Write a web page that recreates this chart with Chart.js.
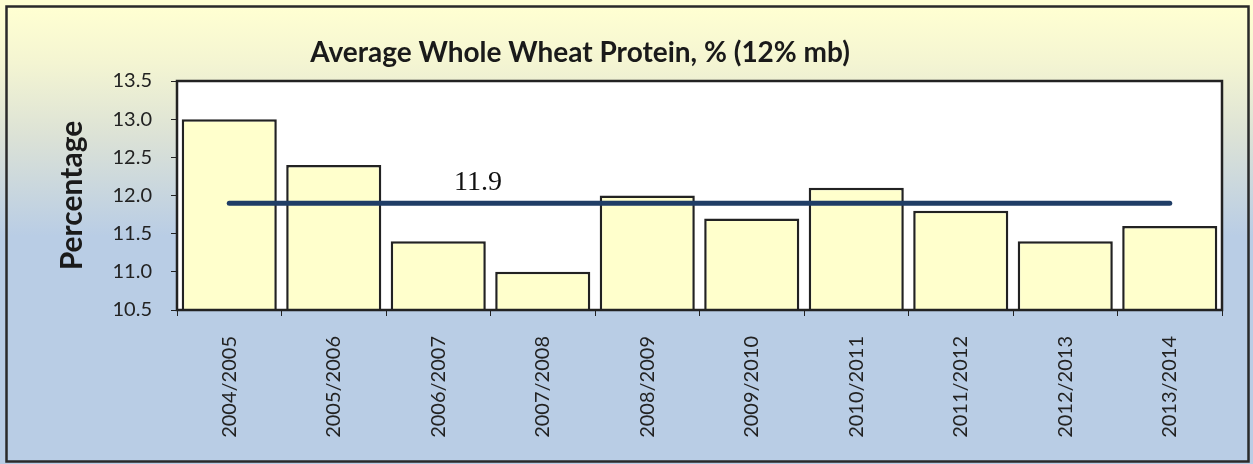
<!DOCTYPE html>
<html>
<head>
<meta charset="utf-8">
<script src="https://cdn.jsdelivr.net/npm/chart.js@4/dist/chart.umd.min.js"></script>
<style>
  html,body{margin:0;padding:0;background:#fff;}
  #wrap{width:1253px;height:464px;}
</style>
</head>
<body>
<div id="wrap"><canvas id="c" width="1253" height="464"></canvas></div>
<script>
const categories = ['2004/2005','2005/2006','2006/2007','2007/2008','2008/2009','2009/2010','2010/2011','2011/2012','2012/2013','2013/2014'];
const proteinValues = [13.0, 12.4, 11.4, 11.0, 12.0, 11.7, 12.1, 11.8, 11.4, 11.6];
const averageValue = 11.9;
const averageLine = categories.map(() => averageValue);
const averageLabel = '11.9';
const chartTitle = 'Average Whole Wheat Protein, % (12% mb)';
const yTitle = 'Percentage';
const yMin = 10.5, yMax = 13.5, yStep = 0.5;

const bgPlugin = {
  id: 'bg',
  beforeDraw(chart) {
    const ctx = chart.ctx;
    const W = chart.width, H = chart.height;
    ctx.save();
    const g = ctx.createLinearGradient(0, 8, 0, H);
    g.addColorStop(0, '#FFFFD2');
    g.addColorStop(0.12, '#F4F5D2');
    g.addColorStop(0.28, '#DCE2D6');
    g.addColorStop(0.50, '#B9CDE5');
    g.addColorStop(1, '#B9CDE5');
    ctx.fillStyle = g;
    ctx.fillRect(0, 0, W, H);
    ctx.lineWidth = 2.5;
    ctx.strokeStyle = '#2a2a2a';
    ctx.strokeRect(6.5, 6.5, W - 11, H - 9);
    const a = chart.chartArea;
    ctx.fillStyle = '#FFFFFF';
    ctx.fillRect(a.left, a.top, a.right - a.left, a.bottom - a.top);
    ctx.restore();
  },
  afterDraw(chart) {
    const ctx = chart.ctx;
    const a = chart.chartArea;
    ctx.save();
    ctx.lineWidth = 2.5;
    ctx.strokeStyle = '#222';
    ctx.strokeRect(a.left, a.top, a.right - a.left, a.bottom - a.top);
    // title
    ctx.fillStyle = '#1a1a1a';
    ctx.font = 'bold 28px Lato, "Open Sans", sans-serif';
    ctx.textAlign = 'center';
    ctx.textBaseline = 'alphabetic';
    ctx.fillText(chartTitle, 580, 62);
    // average label
    const xs = chart.scales.x, ys = chart.scales.y;
    const lx = xs.getPixelForValue(2) + 0.38 * (xs.getPixelForValue(3) - xs.getPixelForValue(2));
    const ly = ys.getPixelForValue(averageValue) - 13;
    ctx.font = '28px "Liberation Serif", "Times New Roman", serif';
    ctx.fillStyle = '#111';
    ctx.fillText(averageLabel, lx, ly);
    ctx.restore();
  }
};

new Chart(document.getElementById('c'), {
  data: {
    labels: categories,
    datasets: [
      {
        type: 'line',
        data: averageLine,
        borderColor: '#1F3D66',
        borderWidth: 5,
        borderCapStyle: 'round',
        pointRadius: 0,
        fill: false,
        order: 0
      },
      {
        type: 'bar',
        data: proteinValues,
        backgroundColor: '#FFFFCC',
        borderColor: '#222222',
        borderWidth: 2.5,
        barPercentage: 0.91,
        categoryPercentage: 1.0,
        base: yMin,
        order: 1
      }
    ]
  },
  options: {
    responsive: false,
    animation: false,
    layout: { padding: { left: 0, right: 31, top: 81, bottom: 0 } },
    plugins: { legend: { display: false }, tooltip: { enabled: false }, title: { display: false } },
    scales: {
      x: {
        type: 'category',
        offset: true,
        grid: { display: true, drawOnChartArea: false, offset: true, tickLength: 6, color: '#222', lineWidth: 1 },
        border: { display: false },
        ticks: {
          minRotation: 90, maxRotation: 90, padding: 20,
          color: '#222',
          font: { family: 'Lato, "Open Sans", sans-serif', size: 20 }
        },
        afterFit(scale) { scale.height = 154; }
      },
      y: {
        min: yMin, max: yMax,
        grid: { display: true, drawOnChartArea: false, tickLength: 6, color: '#222', lineWidth: 1 },
        border: { display: false },
        ticks: {
          stepSize: yStep, padding: 19,
          color: '#222',
          font: { family: 'Lato, "Open Sans", sans-serif', size: 20 },
          callback: v => Number(v).toFixed(1)
        },
        title: {
          display: true, text: yTitle, color: '#1a1a1a',
          font: { family: 'Lato, "Open Sans", sans-serif', size: 30, weight: 'bold' },
          padding: { top: 54, bottom: 0 }
        },
        afterFit(scale) { scale.width = 177; }
      }
    }
  },
  plugins: [bgPlugin]
});
</script>
</body>
</html>
